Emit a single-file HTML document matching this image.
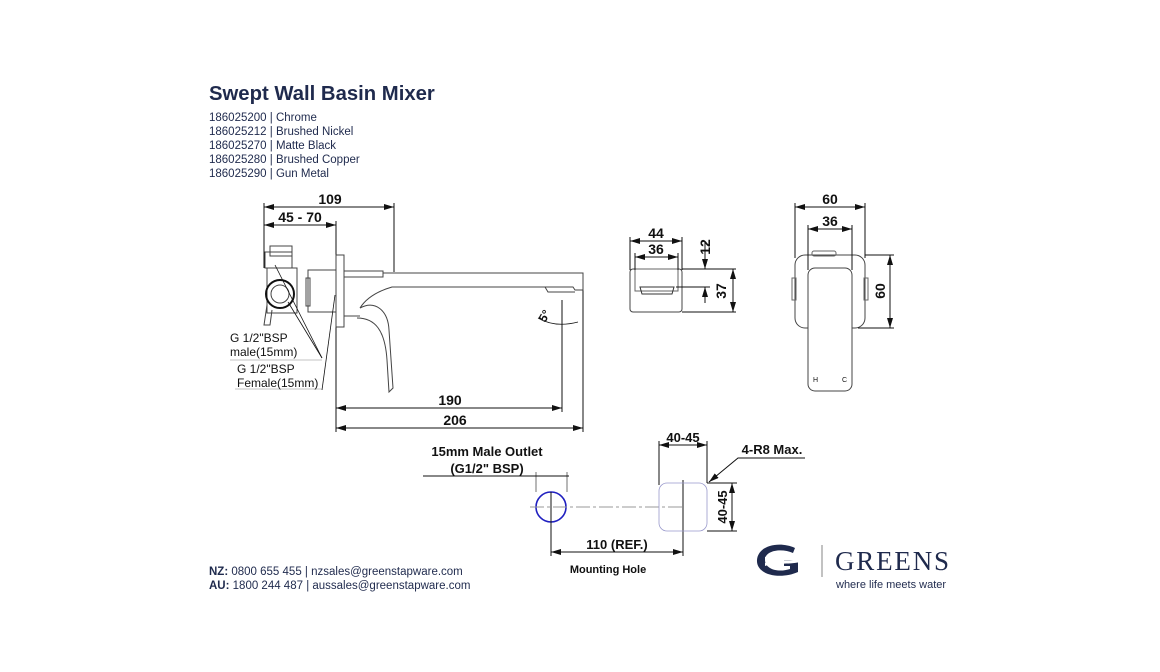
<!DOCTYPE html>
<html><head><meta charset="utf-8"><style>
html,body{margin:0;padding:0;background:#fff;}
svg{display:block;}
.t{font-family:"Liberation Sans",sans-serif;}
</style></head><body>
<svg width="1160" height="672" viewBox="0 0 1160 672" xmlns="http://www.w3.org/2000/svg" class="t">
<defs>
<marker id="a" viewBox="0 0 10 6" refX="10" refY="3" markerWidth="10" markerHeight="6" orient="auto-start-reverse" markerUnits="userSpaceOnUse"><path d="M0,0 L10,3 L0,6z" fill="#111"/></marker>
</defs>
<!-- Title -->
<text x="209" y="100" font-size="20.3" font-weight="bold" fill="#1f2a4d">Swept Wall Basin Mixer</text>
<g font-size="11.5" fill="#1f2a4d">
<text x="209" y="121">186025200 | Chrome</text>
<text x="209" y="135">186025212 | Brushed Nickel</text>
<text x="209" y="149">186025270 | Matte Black</text>
<text x="209" y="163">186025280 | Brushed Copper</text>
<text x="209" y="177">186025290 | Gun Metal</text>
</g>

<g stroke="#111" stroke-width="1" fill="none">
<!-- side view dims -->
<line x1="264" y1="207" x2="394" y2="207" marker-start="url(#a)" marker-end="url(#a)"/>
<line x1="264" y1="225" x2="336" y2="225" marker-start="url(#a)" marker-end="url(#a)"/>
<line x1="264" y1="203" x2="264" y2="268"/>
<line x1="394" y1="203" x2="394" y2="272"/>
<line x1="336" y1="221" x2="336" y2="432"/>
<line x1="336" y1="408" x2="562" y2="408" marker-start="url(#a)" marker-end="url(#a)"/>
<line x1="336" y1="428" x2="583" y2="428" marker-start="url(#a)" marker-end="url(#a)"/>
<line x1="562" y1="300" x2="562" y2="412"/>
<line x1="583" y1="283" x2="583" y2="432"/>
<!-- valve -->
<rect x="265" y="252" width="27" height="16" stroke="#444"/>
<rect x="270" y="246" width="22" height="10" stroke="#444"/>
<rect x="267" y="268" width="30" height="45" stroke="#444"/>
<circle cx="280" cy="294" r="14" stroke-width="2"/>
<circle cx="280" cy="294" r="9" stroke="#444"/>
<path d="M267,305 L264,325 L270,325 L272,310" stroke="#444"/>
<!-- body -->
<rect x="336" y="255" width="8" height="72" stroke="#444"/>
<rect x="308" y="270" width="28" height="42" stroke="#444"/>
<rect x="306" y="278" width="4" height="28" stroke="#444"/>
<path d="M344,271 L383,271 L383,277 L344,277" stroke="#444"/>
<path d="M383,273 L583,273 L583,290 L575,290 L573,287 L392,287 C375,292 365,300 360,308" stroke="#444"/>
<path d="M360,308 C375,300 388,310 389,330 L393,388 L389,392 L387,360 C385,330 375,318 357,318" stroke="#444"/>
<line x1="344" y1="316" x2="360" y2="316" stroke="#444"/>
<path d="M545,287 L548,292 L575,292" stroke="#444"/>
<!-- leaders -->
<line x1="275" y1="265" x2="322" y2="358" stroke-width=".8"/>
<line x1="288" y1="302" x2="322" y2="358" stroke-width=".8"/>
<line x1="335" y1="295" x2="322" y2="390" stroke-width=".8"/>
<line x1="230" y1="360" x2="322" y2="360" stroke-width=".6" stroke="#888"/>
<line x1="235" y1="389" x2="323" y2="389" stroke-width=".6" stroke="#888"/>
<path d="M538,318 Q555,328 578,322" stroke-width=".8"/>

<!-- view 2 -->
<rect x="630" y="269" width="52" height="43" rx="3" stroke="#444"/>
<rect x="635" y="269" width="43" height="22" stroke="#666"/>
<path d="M640,287 L674,287 L672,294 L642,294z" stroke="#333"/>
<line x1="630" y1="237" x2="630" y2="270"/>
<line x1="682" y1="237" x2="682" y2="270"/>
<line x1="635" y1="253" x2="635" y2="270"/>
<line x1="678" y1="253" x2="678" y2="270"/>
<line x1="630" y1="241" x2="682" y2="241" marker-start="url(#a)" marker-end="url(#a)"/>
<line x1="635" y1="257" x2="678" y2="257" marker-start="url(#a)" marker-end="url(#a)"/>
<line x1="682" y1="269" x2="736" y2="269"/>
<line x1="676" y1="287" x2="710" y2="287"/>
<line x1="682" y1="312" x2="736" y2="312"/>
<line x1="705" y1="242" x2="705" y2="269" marker-end="url(#a)"/>
<line x1="705" y1="303" x2="705" y2="287" marker-end="url(#a)"/>
<line x1="733" y1="269" x2="733" y2="312" marker-start="url(#a)" marker-end="url(#a)"/>

<!-- view 3 -->
<rect x="795" y="255" width="70" height="73" rx="10" stroke="#444"/>
<rect x="812" y="251" width="24" height="5" rx="2" stroke="#666"/>
<rect x="792" y="278" width="4" height="22" stroke="#666"/>
<rect x="864" y="278" width="4" height="22" stroke="#666"/>
<rect x="808" y="268" width="44" height="123" rx="7" fill="#fff" stroke="#444"/>
<line x1="795" y1="203" x2="795" y2="258"/>
<line x1="865" y1="203" x2="865" y2="258"/>
<line x1="808" y1="225" x2="808" y2="270"/>
<line x1="852" y1="225" x2="852" y2="270"/>
<line x1="795" y1="207" x2="865" y2="207" marker-start="url(#a)" marker-end="url(#a)"/>
<line x1="808" y1="229" x2="852" y2="229" marker-start="url(#a)" marker-end="url(#a)"/>
<line x1="865" y1="255" x2="894" y2="255"/>
<line x1="858" y1="328" x2="894" y2="328"/>
<line x1="890" y1="255" x2="890" y2="328" marker-start="url(#a)" marker-end="url(#a)"/>

<!-- mounting -->
<line x1="423" y1="476" x2="569" y2="476"/>
<line x1="536" y1="472" x2="536" y2="492" stroke-width=".6"/>
<line x1="567" y1="472" x2="567" y2="492" stroke-width=".6"/>
<circle cx="551" cy="507" r="15" stroke="#2020c0" stroke-width="1.6"/>
<line x1="530" y1="507" x2="683" y2="507" stroke="#999" stroke-dasharray="14,3,3,3"/>
<line x1="551" y1="492" x2="551" y2="556"/>
<line x1="683" y1="480" x2="683" y2="556"/>
<rect x="659" y="483" width="48" height="48" rx="8" stroke="#9999cc" stroke-width=".8"/>
<line x1="659" y1="441" x2="659" y2="485"/>
<line x1="707" y1="441" x2="707" y2="483"/>
<line x1="659" y1="445" x2="707" y2="445" marker-start="url(#a)" marker-end="url(#a)"/>
<path d="M805,458 L738,458 L709,482" marker-end="url(#a)"/>
<line x1="707" y1="483" x2="737" y2="483"/>
<line x1="707" y1="531" x2="737" y2="531"/>
<line x1="732" y1="483" x2="732" y2="531" marker-start="url(#a)" marker-end="url(#a)"/>
<line x1="551" y1="552" x2="683" y2="552" marker-start="url(#a)" marker-end="url(#a)"/>
</g>

<g font-size="14" font-weight="bold" fill="#111" text-anchor="middle">
<text x="330" y="204">109</text>
<text x="300" y="222">45 - 70</text>
<text x="450" y="405">190</text>
<text x="455" y="425">206</text>
<text x="656" y="238">44</text>
<text x="656" y="254">36</text>
<text x="830" y="204">60</text>
<text x="830" y="226">36</text>
<text transform="translate(710,247) rotate(-90)">12</text>
<text transform="translate(726,291) rotate(-90)">37</text>
<text transform="translate(885,291) rotate(-90)">60</text>
<text transform="translate(548,318) rotate(-60)" font-size="12">5°</text>
</g>
<g font-size="12" fill="#111">
<text x="230" y="342">G 1/2"BSP</text>
<text x="230" y="356">male(15mm)</text>
<text x="237" y="373">G 1/2"BSP</text>
<text x="237" y="387">Female(15mm)</text>
</g>
<g fill="#111">
<text x="813" y="382" font-size="7">H</text><text x="842" y="382" font-size="7">C</text>
</g>
<g font-size="13" font-weight="bold" fill="#111" text-anchor="middle">
<text x="487" y="456">15mm Male Outlet</text>
<text x="487" y="473">(G1/2" BSP)</text>
<text x="683" y="442">40-45</text>
<text x="772" y="454">4-R8 Max.</text>
<text x="617" y="549">110 (REF.)</text>
<text transform="translate(727,507) rotate(-90)">40-45</text>
<text x="608" y="573" font-size="11">Mounting Hole</text>
</g>

<!-- footer -->
<g font-size="11.5" fill="#1f2a4d">
<text x="209" y="575"><tspan font-weight="bold">NZ:</tspan> 0800 655 455 | nzsales@greenstapware.com</text>
<text x="209" y="589"><tspan font-weight="bold">AU:</tspan> 1800 244 487  |  aussales@greenstapware.com</text>
</g>
<!-- logo -->
<g fill="#1f2a4d">
<path d="M795,548 C780,541 758,545 757,560 C756,575 780,580 798,572 L798,560 L784,560 L784,566 L790,566 L790,569 C778,573 765,569 765,560 C765,550 782,548 793,553z"/>
<path d="M765,557 C775,552 788,556 800,553 L800,556 C788,559 775,556 765,560z" fill="#fff"/>
<path d="M765,563 C775,558 788,562 800,559 L800,562 C788,565 775,562 765,566z" fill="#fff"/>
</g>
<line x1="822" y1="545" x2="822" y2="577" stroke="#999" stroke-width="1.2"/>
<text x="835" y="570" font-family="Liberation Serif" font-size="27" fill="#1f2a4d" letter-spacing="1.8">GREENS</text>
<text x="836" y="588" font-size="11" fill="#1f2a4d">where life meets water</text>
</svg>
</body></html>
